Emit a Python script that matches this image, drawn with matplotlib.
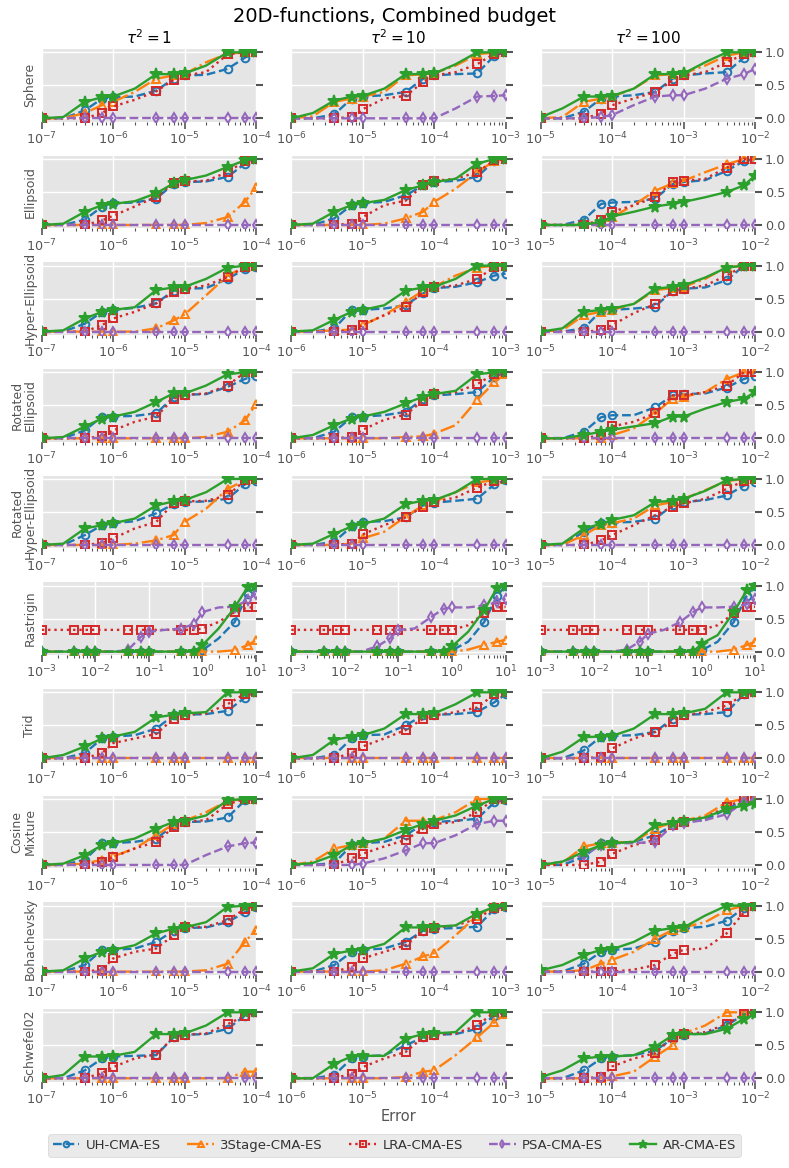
import numpy as np
import matplotlib
matplotlib.use("Agg")
import matplotlib.pyplot as plt
from matplotlib.ticker import LogLocator, NullFormatter

plt.style.use("ggplot")

# ---------------- data ----------------
FUNCTIONS = ["Sphere", "Ellipsoid", "Hyper-Ellipsoid", "Rotated\nEllipsoid",
             "Rotated\nHyper-Ellipsoid", "Rastrigin", "Trid", "Cosine\nMixture",
             "Bohachevsky", "Schwefel02"]
TAU_LABELS = [r"$\tau^2 = 1$", r"$\tau^2 = 10$", r"$\tau^2 = 100$"]
ALGORITHMS = ["UH-CMA-ES", "3Stage-CMA-ES", "LRA-CMA-ES", "PSA-CMA-ES", "AR-CMA-ES"]

# error grid: multipliers per decade, first exponent per tau column, number of decades
ERR_MULT = [1, 2, 4, 7]
START_EXP = [-7, -6, -5]
N_DEC = 3
RASTRIGIN_START_EXP = -3
RASTRIGIN_N_DEC = 4

Z13 = [0, 0, 0, 0, 0, 0, 0, 0, 0, 0, 0, 0, 0]

sphere_uh = [[0, 0, 0.12, 0.3, 0.32, 0.33, 0.42, 0.6, 0.65, 0.66, 0.75, 0.92, 1.0],
             [0, 0, 0.06, 0.3, 0.33, 0.35, 0.4, 0.6, 0.65, 0.67, 0.68, 0.95, 1.0],
             [0, 0, 0.1, 0.3, 0.33, 0.35, 0.4, 0.6, 0.65, 0.68, 0.7, 0.92, 1.0]]
sphere_3s = [[0, 0, 0.08, 0.2, 0.25, 0.4, 0.6, 0.65, 0.67, 0.85, 0.98, 1, 1],
             [0, 0.03, 0.25, 0.3, 0.33, 0.4, 0.65, 0.67, 0.68, 0.8, 0.97, 1, 1],
             [0, 0.02, 0.25, 0.3, 0.33, 0.45, 0.65, 0.67, 0.68, 0.8, 0.95, 1, 1]]
sphere_lra = [[0, 0, 0, 0.08, 0.18, 0.28, 0.41, 0.58, 0.65, 0.7, 0.97, 1, 1],
              [0, 0, 0, 0.02, 0.14, 0.3, 0.34, 0.55, 0.65, 0.7, 0.82, 0.98, 1],
              [0, 0, 0, 0.07, 0.2, 0.3, 0.4, 0.57, 0.65, 0.7, 0.85, 0.97, 1]]
sphere_psa = [Z13,
              [0, 0, 0, 0, 0, 0, 0, 0, 0, 0.15, 0.33, 0.34, 0.35],
              [0, 0, 0, 0.02, 0.05, 0.2, 0.33, 0.35, 0.35, 0.45, 0.6, 0.67, 0.75]]
sphere_ar = [[0, 0.02, 0.25, 0.32, 0.33, 0.45, 0.67, 0.67, 0.68, 0.8, 1, 1, 1],
             [0, 0.08, 0.27, 0.33, 0.34, 0.45, 0.67, 0.67, 0.68, 0.82, 1, 1, 1],
             [0.02, 0.15, 0.33, 0.33, 0.34, 0.45, 0.67, 0.67, 0.68, 0.85, 1, 1, 1]]

ellip_uh = [[0, 0, 0.08, 0.28, 0.33, 0.34, 0.4, 0.62, 0.65, 0.66, 0.73, 0.93, 1],
            [0, 0, 0.1, 0.3, 0.33, 0.35, 0.45, 0.6, 0.65, 0.67, 0.73, 0.97, 1],
            [0, 0, 0.08, 0.32, 0.34, 0.35, 0.4, 0.62, 0.65, 0.68, 0.82, 0.97, 1]]
ellip_3s = [[0, 0, 0, 0, 0, 0, 0, 0, 0, 0.03, 0.12, 0.35, 0.57],
            [0, 0, 0, 0, 0, 0.02, 0.1, 0.2, 0.35, 0.55, 0.8, 0.97, 1],
            [0, 0, 0, 0.05, 0.12, 0.3, 0.52, 0.63, 0.67, 0.8, 0.92, 1, 1]]
ellip_lra = [[0, 0, 0, 0.07, 0.14, 0.28, 0.43, 0.63, 0.66, 0.67, 0.8, 0.97, 1],
             [0, 0, 0, 0.02, 0.12, 0.3, 0.37, 0.6, 0.67, 0.7, 0.8, 0.98, 1],
             [0, 0, 0, 0.08, 0.2, 0.3, 0.42, 0.65, 0.67, 0.7, 0.87, 1, 1]]
ellip_psa = [Z13, Z13, Z13]
ellip_ar = [[0, 0.02, 0.2, 0.3, 0.32, 0.36, 0.48, 0.63, 0.68, 0.75, 0.88, 0.98, 1],
            [0, 0.02, 0.2, 0.3, 0.33, 0.38, 0.53, 0.6, 0.65, 0.7, 0.93, 1, 1],
            [0, 0, 0, 0.05, 0.13, 0.2, 0.28, 0.32, 0.35, 0.42, 0.5, 0.6, 0.75]]

hyper_uh = [[0, 0, 0.12, 0.3, 0.33, 0.36, 0.43, 0.62, 0.65, 0.66, 0.8, 0.95, 0.98],
            [0, 0, 0.05, 0.33, 0.33, 0.35, 0.4, 0.58, 0.66, 0.68, 0.75, 0.85, 0.88],
            [0, 0, 0.05, 0.32, 0.33, 0.35, 0.38, 0.62, 0.65, 0.67, 0.78, 1, 1]]
hyper_3s = [[0, 0, 0, 0, 0, 0, 0.05, 0.17, 0.26, 0.55, 0.85, 0.98, 1],
            [0, 0, 0.02, 0.03, 0.1, 0.25, 0.45, 0.62, 0.68, 0.85, 0.97, 1, 1],
            [0, 0.02, 0.25, 0.3, 0.33, 0.42, 0.63, 0.66, 0.68, 0.8, 0.98, 1, 1]]
hyper_lra = [[0, 0, 0, 0.1, 0.2, 0.3, 0.43, 0.6, 0.65, 0.7, 0.83, 0.98, 1],
             [0, 0, 0, 0.02, 0.1, 0.25, 0.37, 0.6, 0.67, 0.7, 0.8, 0.98, 1],
             [0, 0, 0, 0.02, 0.1, 0.28, 0.42, 0.62, 0.65, 0.7, 0.85, 1, 1]]
hyper_psa = [Z13, Z13, Z13]
hyper_ar = [[0, 0.02, 0.2, 0.3, 0.33, 0.37, 0.63, 0.67, 0.68, 0.8, 0.97, 1, 1],
            [0, 0.02, 0.18, 0.3, 0.33, 0.4, 0.62, 0.67, 0.68, 0.8, 1, 1, 1],
            [0, 0.05, 0.3, 0.33, 0.35, 0.42, 0.65, 0.68, 0.7, 0.82, 0.97, 1, 1]]

rotel_uh = [[0, 0, 0.12, 0.33, 0.33, 0.34, 0.38, 0.62, 0.66, 0.67, 0.78, 0.9, 0.95],
            [0, 0, 0.1, 0.32, 0.33, 0.35, 0.4, 0.6, 0.65, 0.67, 0.7, 0.93, 1],
            [0, 0, 0.1, 0.32, 0.35, 0.35, 0.47, 0.65, 0.67, 0.68, 0.77, 0.9, 0.95]]
rotel_3s = [[0, 0, 0, 0, 0, 0, 0, 0, 0, 0.02, 0.1, 0.27, 0.52],
            [0, 0, 0, 0, 0, 0, 0.02, 0.03, 0.07, 0.2, 0.58, 0.85, 0.98],
            [0, 0, 0, 0, 0.05, 0.15, 0.38, 0.6, 0.63, 0.7, 0.9, 1, 1]]
rotel_lra = [[0, 0, 0, 0.03, 0.12, 0.25, 0.33, 0.6, 0.66, 0.68, 0.8, 1, 1],
             [0, 0, 0, 0.02, 0.13, 0.28, 0.36, 0.57, 0.67, 0.7, 0.82, 0.98, 1],
             [0, 0, 0, 0.05, 0.18, 0.25, 0.38, 0.65, 0.65, 0.7, 0.8, 1, 1]]
rotel_psa = [Z13, Z13, Z13]
rotel_ar = [[0, 0.02, 0.18, 0.3, 0.33, 0.4, 0.55, 0.68, 0.68, 0.8, 0.97, 1, 1],
            [0, 0.05, 0.2, 0.3, 0.33, 0.4, 0.53, 0.63, 0.67, 0.72, 0.97, 1, 1],
            [0, 0, 0.05, 0.1, 0.13, 0.18, 0.23, 0.33, 0.33, 0.45, 0.55, 0.6, 0.7]]

rothy_uh = [[0, 0, 0.15, 0.3, 0.33, 0.36, 0.48, 0.62, 0.65, 0.66, 0.7, 0.92, 0.97],
            [0, 0, 0.05, 0.28, 0.35, 0.36, 0.42, 0.6, 0.64, 0.67, 0.7, 0.92, 0.98],
            [0, 0, 0.2, 0.33, 0.34, 0.35, 0.4, 0.6, 0.65, 0.68, 0.75, 0.9, 0.95]]
rothy_3s = [[0, 0, 0, 0, 0, 0.02, 0.07, 0.15, 0.35, 0.55, 0.85, 0.98, 1],
            [0, 0, 0, 0.02, 0.1, 0.2, 0.43, 0.6, 0.65, 0.8, 0.95, 0.98, 1],
            [0, 0, 0.15, 0.3, 0.33, 0.4, 0.6, 0.65, 0.7, 0.83, 0.97, 1, 1]]
rothy_lra = [[0, 0, 0, 0.03, 0.1, 0.25, 0.35, 0.63, 0.66, 0.67, 0.75, 0.98, 1],
             [0, 0, 0, 0.02, 0.16, 0.3, 0.42, 0.58, 0.65, 0.72, 0.87, 0.97, 1],
             [0, 0, 0, 0.07, 0.15, 0.3, 0.45, 0.58, 0.63, 0.7, 0.85, 0.97, 1]]
rothy_psa = [Z13, Z13, Z13]
rothy_ar = [[0, 0.02, 0.25, 0.3, 0.33, 0.4, 0.6, 0.66, 0.68, 0.8, 1, 1, 1],
            [0, 0.02, 0.17, 0.28, 0.32, 0.4, 0.62, 0.67, 0.68, 0.8, 1, 1, 1],
            [0, 0.02, 0.25, 0.32, 0.38, 0.45, 0.65, 0.67, 0.7, 0.82, 0.98, 1, 1]]

# Rastrigin: 1e-3 ... 1e1 (17 points)
rast_uh = [[0, 0, 0, 0, 0, 0, 0, 0, 0, 0, 0, 0, 0.02, 0.2, 0.45, 0.88, 0.98],
           [0, 0, 0, 0, 0, 0, 0, 0, 0, 0, 0, 0, 0.02, 0.15, 0.45, 0.85, 1.0],
           [0, 0, 0, 0, 0, 0, 0, 0, 0, 0, 0, 0, 0.02, 0.15, 0.45, 0.85, 1.0]]
rast_3s = [[0, 0, 0, 0, 0, 0, 0, 0, 0, 0, 0, 0, 0, 0, 0.02, 0.1, 0.17],
           [0, 0, 0, 0, 0, 0, 0, 0, 0, 0, 0, 0, 0, 0.03, 0.1, 0.15, 0.18],
           [0, 0, 0, 0, 0, 0, 0, 0, 0, 0, 0, 0, 0, 0, 0.03, 0.1, 0.15]]
rast_lra = [[0.33, 0.33, 0.33, 0.33, 0.33, 0.33, 0.33, 0.33, 0.33, 0.33, 0.33, 0.33, 0.35, 0.45, 0.6, 0.67, 0.67],
            [0.33, 0.33, 0.33, 0.33, 0.33, 0.33, 0.33, 0.33, 0.33, 0.33, 0.33, 0.33, 0.33, 0.4, 0.58, 0.67, 0.68],
            [0.33, 0.33, 0.33, 0.33, 0.33, 0.33, 0.33, 0.33, 0.33, 0.33, 0.33, 0.33, 0.33, 0.4, 0.58, 0.67, 0.68]]
rast_psa = [[0, 0, 0, 0, 0, 0, 0.02, 0.22, 0.3, 0.33, 0.35, 0.42, 0.6, 0.67, 0.68, 0.78, 0.88],
            [0, 0, 0, 0, 0, 0, 0.08, 0.2, 0.33, 0.35, 0.52, 0.65, 0.67, 0.67, 0.7, 0.75, 0.8],
            [0, 0, 0, 0, 0, 0, 0.03, 0.15, 0.27, 0.33, 0.45, 0.6, 0.67, 0.67, 0.68, 0.72, 0.8]]
rast_ar = [[0, 0, 0, 0, 0, 0, 0, 0, 0, 0, 0, 0, 0.1, 0.35, 0.67, 0.98, 1.0],
           [0, 0, 0, 0, 0, 0, 0, 0, 0, 0, 0, 0, 0.08, 0.3, 0.63, 0.97, 1.0],
           [0, 0, 0, 0, 0, 0, 0, 0, 0, 0, 0, 0, 0.12, 0.25, 0.6, 0.93, 1.0]]

trid_uh = [[0, 0, 0.08, 0.3, 0.33, 0.35, 0.45, 0.65, 0.66, 0.67, 0.72, 0.92, 1],
           [0, 0, 0.05, 0.3, 0.35, 0.36, 0.5, 0.65, 0.66, 0.67, 0.7, 0.85, 0.97],
           [0, 0, 0.12, 0.33, 0.34, 0.35, 0.4, 0.6, 0.66, 0.67, 0.7, 0.97, 1]]
trid_3s = [Z13, Z13, Z13]
trid_lra = [[0, 0, 0, 0.08, 0.23, 0.3, 0.37, 0.6, 0.66, 0.68, 0.82, 0.98, 1],
            [0, 0, 0, 0.08, 0.18, 0.3, 0.43, 0.6, 0.65, 0.7, 0.77, 0.97, 1],
            [0, 0, 0, 0.02, 0.15, 0.3, 0.4, 0.55, 0.65, 0.7, 0.8, 0.97, 1]]
trid_psa = [Z13, Z13, Z13]
trid_ar = [[0, 0.05, 0.18, 0.3, 0.33, 0.4, 0.62, 0.66, 0.68, 0.7, 1, 1, 1],
           [0, 0.05, 0.28, 0.33, 0.35, 0.45, 0.67, 0.67, 0.68, 0.82, 1, 1, 1],
           [0, 0.1, 0.32, 0.33, 0.34, 0.45, 0.67, 0.67, 0.68, 0.75, 1, 1, 1]]

cos_uh = [[0, 0, 0.08, 0.33, 0.33, 0.35, 0.4, 0.6, 0.65, 0.66, 0.72, 0.98, 1],
          [0, 0, 0.03, 0.3, 0.33, 0.35, 0.45, 0.62, 0.65, 0.67, 0.7, 0.95, 0.98],
          [0, 0, 0.12, 0.33, 0.33, 0.35, 0.45, 0.6, 0.65, 0.68, 0.85, 0.98, 1]]
cos_3s = [[0, 0, 0.02, 0.08, 0.13, 0.25, 0.45, 0.62, 0.67, 0.8, 0.97, 1, 1],
          [0, 0.05, 0.25, 0.3, 0.33, 0.4, 0.67, 0.67, 0.68, 0.8, 1, 1, 1],
          [0, 0.03, 0.28, 0.33, 0.34, 0.35, 0.55, 0.65, 0.67, 0.75, 0.95, 1, 1]]
cos_lra = [[0, 0, 0, 0.05, 0.12, 0.25, 0.35, 0.57, 0.65, 0.68, 0.92, 1, 1],
           [0, 0, 0, 0.1, 0.17, 0.28, 0.38, 0.55, 0.62, 0.65, 0.8, 1, 1],
           [0, 0, 0, 0.05, 0.17, 0.3, 0.38, 0.6, 0.65, 0.72, 0.88, 1, 1]]
cos_psa = [[0, 0, 0, 0, 0, 0, 0, 0, 0, 0.15, 0.28, 0.33, 0.34],
           [0, 0, 0, 0, 0.02, 0.1, 0.22, 0.33, 0.33, 0.45, 0.62, 0.67, 0.67],
           [0, 0.05, 0.15, 0.3, 0.33, 0.33, 0.35, 0.6, 0.64, 0.68, 0.77, 0.95, 1]]
cos_ar = [[0, 0.02, 0.15, 0.3, 0.33, 0.4, 0.55, 0.65, 0.67, 0.75, 0.98, 1, 1],
          [0, 0.03, 0.15, 0.3, 0.33, 0.4, 0.53, 0.62, 0.67, 0.75, 0.9, 1, 1],
          [0, 0.05, 0.2, 0.3, 0.33, 0.35, 0.6, 0.63, 0.67, 0.72, 0.85, 0.9, 0.93]]

boha_uh = [[0, 0, 0.1, 0.33, 0.33, 0.35, 0.45, 0.62, 0.66, 0.67, 0.75, 0.9, 0.98],
           [0, 0, 0.1, 0.3, 0.33, 0.35, 0.45, 0.62, 0.65, 0.66, 0.68, 0.95, 0.98],
           [0, 0, 0.12, 0.3, 0.33, 0.35, 0.45, 0.62, 0.66, 0.68, 0.77, 0.97, 1]]
boha_3s = [[0, 0, 0, 0, 0, 0, 0, 0, 0, 0.02, 0.12, 0.45, 0.63],
           [0, 0, 0, 0, 0, 0.02, 0.12, 0.23, 0.28, 0.55, 0.85, 1, 1],
           [0, 0, 0.02, 0.12, 0.18, 0.3, 0.5, 0.63, 0.67, 0.75, 0.93, 1, 1]]
boha_lra = [[0, 0, 0, 0.03, 0.2, 0.3, 0.35, 0.55, 0.67, 0.68, 0.78, 0.95, 1],
            [0, 0, 0, 0.07, 0.2, 0.3, 0.4, 0.62, 0.66, 0.7, 0.8, 0.97, 1],
            [0, 0, 0, 0, 0, 0.03, 0.1, 0.27, 0.33, 0.35, 0.58, 0.9, 1]]
boha_psa = [Z13, Z13, Z13]
boha_ar = [[0, 0.02, 0.2, 0.3, 0.33, 0.4, 0.58, 0.65, 0.67, 0.75, 0.98, 1, 1],
           [0, 0.05, 0.27, 0.32, 0.33, 0.42, 0.67, 0.67, 0.68, 0.7, 0.88, 0.98, 1],
           [0.02, 0.1, 0.25, 0.33, 0.34, 0.45, 0.62, 0.66, 0.67, 0.85, 1, 1, 1]]

schw_uh = [[0, 0, 0.12, 0.3, 0.33, 0.34, 0.35, 0.62, 0.66, 0.67, 0.75, 0.95, 1],
           [0, 0, 0.05, 0.3, 0.33, 0.35, 0.5, 0.62, 0.66, 0.67, 0.75, 0.95, 1],
           [0, 0, 0.12, 0.3, 0.33, 0.35, 0.42, 0.6, 0.66, 0.68, 0.8, 0.97, 1]]
schw_3s = [[0, 0, 0, 0, 0, 0, 0, 0, 0, 0, 0, 0.1, 0.1],
           [0, 0, 0, 0, 0, 0, 0.02, 0.1, 0.12, 0.35, 0.62, 0.85, 0.98],
           [0, 0, 0, 0, 0.03, 0.1, 0.33, 0.5, 0.68, 0.8, 1, 1, 1]]
schw_lra = [[0, 0, 0, 0.08, 0.17, 0.3, 0.36, 0.62, 0.66, 0.68, 0.82, 0.95, 1],
            [0, 0, 0, 0.07, 0.17, 0.3, 0.4, 0.62, 0.66, 0.68, 0.8, 1, 1],
            [0, 0, 0, 0.02, 0.18, 0.3, 0.38, 0.62, 0.67, 0.7, 0.82, 0.98, 1]]
schw_psa = [Z13, Z13, Z13]
schw_ar = [[0, 0.05, 0.33, 0.33, 0.34, 0.4, 0.67, 0.67, 0.68, 0.8, 1, 1, 1],
           [0, 0, 0.22, 0.33, 0.34, 0.34, 0.6, 0.67, 0.68, 0.7, 1, 1, 1],
           [0.02, 0.12, 0.3, 0.33, 0.33, 0.35, 0.48, 0.65, 0.67, 0.67, 0.75, 0.9, 0.97]]

ROWS = [
    (sphere_uh, sphere_3s, sphere_lra, sphere_psa, sphere_ar),
    (ellip_uh, ellip_3s, ellip_lra, ellip_psa, ellip_ar),
    (hyper_uh, hyper_3s, hyper_lra, hyper_psa, hyper_ar),
    (rotel_uh, rotel_3s, rotel_lra, rotel_psa, rotel_ar),
    (rothy_uh, rothy_3s, rothy_lra, rothy_psa, rothy_ar),
    (rast_uh, rast_3s, rast_lra, rast_psa, rast_ar),
    (trid_uh, trid_3s, trid_lra, trid_psa, trid_ar),
    (cos_uh, cos_3s, cos_lra, cos_psa, cos_ar),
    (boha_uh, boha_3s, boha_lra, boha_psa, boha_ar),
    (schw_uh, schw_3s, schw_lra, schw_psa, schw_ar),
]

# ---------------- styles ----------------
STYLES = [
    dict(color="#1f77b4", ls="--", marker="o", mfc="none", ms=5.5),
    dict(color="#ff7f0e", ls="-.", marker="^", mfc="none", ms=5.5),
    dict(color="#d62728", ls=":", marker="s", mfc="none", ms=5.5),
    dict(color="#9467bd", ls="--", marker="d", mfc="none", ms=5.5),
    dict(color="#2ca02c", ls="-", marker="*", mfc="#2ca02c", ms=8.5),
]


def error_grid(start_exp, n_dec):
    xs = [m * 10.0 ** e for e in range(start_exp, start_exp + n_dec) for m in ERR_MULT]
    xs.append(10.0 ** (start_exp + n_dec))
    return np.array(xs)


fig = plt.figure(figsize=(7.89, 11.68), dpi=100)
fig.patch.set_facecolor("white")
gs = fig.add_gridspec(10, 3, left=0.053, right=0.957, top=0.958, bottom=0.074,
                      hspace=0.47, wspace=0.165)

handles = None
for r, (fname, series) in enumerate(zip(FUNCTIONS, ROWS)):
    for c in range(3):
        ax = fig.add_subplot(gs[r, c])
        ax.set_facecolor("#E5E5E5")
        if fname == "Rastrigin":
            x = error_grid(RASTRIGIN_START_EXP, RASTRIGIN_N_DEC)
        else:
            x = error_grid(START_EXP[c], N_DEC)
        mark_idx = [i for i in range(len(x)) if i % 4 != 1]
        lines = []
        for k, (vals, st) in enumerate(zip(series, STYLES)):
            ln, = ax.plot(x, vals[c], color=st["color"], ls=st["ls"], lw=1.7,
                          marker=st["marker"], mfc=st["mfc"], mec=st["color"],
                          ms=st["ms"], mew=1.4, markevery=mark_idx,
                          label=ALGORITHMS[k], clip_on=True, zorder=3 + k)
            lines.append(ln)
        handles = lines
        ax.set_xscale("log")
        ax.set_xlim(x[0], x[-1])
        ax.set_ylim(-0.05, 1.05)
        ax.xaxis.set_major_locator(LogLocator(base=10, numticks=10))
        ax.xaxis.set_minor_locator(LogLocator(base=10, subs=np.arange(2, 10), numticks=10))
        ax.xaxis.set_minor_formatter(NullFormatter())
        ax.set_yticks([0.0, 0.5, 1.0])
        ax.yaxis.tick_right()
        ax.grid(True, which="major", color="white", lw=1.0)
        ax.grid(False, which="minor")
        ax.tick_params(axis="x", which="major", length=5, width=1.2, colors="#555555",
                       labelsize=9.2, pad=1.5)
        ax.tick_params(axis="x", which="minor", length=2.5, width=0.8, colors="#555555")
        ax.tick_params(axis="y", which="major", length=5, width=1.5, colors="#555555",
                       labelsize=9.2, right=True, left=False, pad=2)
        if c != 2:
            ax.set_yticklabels([])
        else:
            ax.set_yticklabels(["0.0", "0.5", "1.0"])
        for sp in ax.spines.values():
            sp.set_visible(False)
        if r == 0:
            ax.set_title(TAU_LABELS[c], fontsize=11, color="black", pad=4)
        if c == 0:
            ax.set_ylabel(fname, fontsize=9, color="#555555", labelpad=4,
                          linespacing=1.0)
        if r == len(FUNCTIONS) - 1 and c == 1:
            ax.set_xlabel("Error", fontsize=10.5, color="#555555", labelpad=1)

fig.suptitle("20D-functions, Combined budget", fontsize=14, y=0.994)

leg = fig.legend(handles, ALGORITHMS, loc="lower center", ncol=5,
                 bbox_to_anchor=(0.5, 0.004), fontsize=9.5, frameon=True,
                 handlelength=2.0, columnspacing=2.0, handletextpad=0.5,
                 borderpad=0.35, markerscale=0.75)
leg.get_frame().set_facecolor("#E5E5E5")
leg.get_frame().set_edgecolor("#CCCCCC")
for t in leg.get_texts():
    t.set_color("#333333")

fig.savefig("out.png", dpi=100, facecolor="white")
